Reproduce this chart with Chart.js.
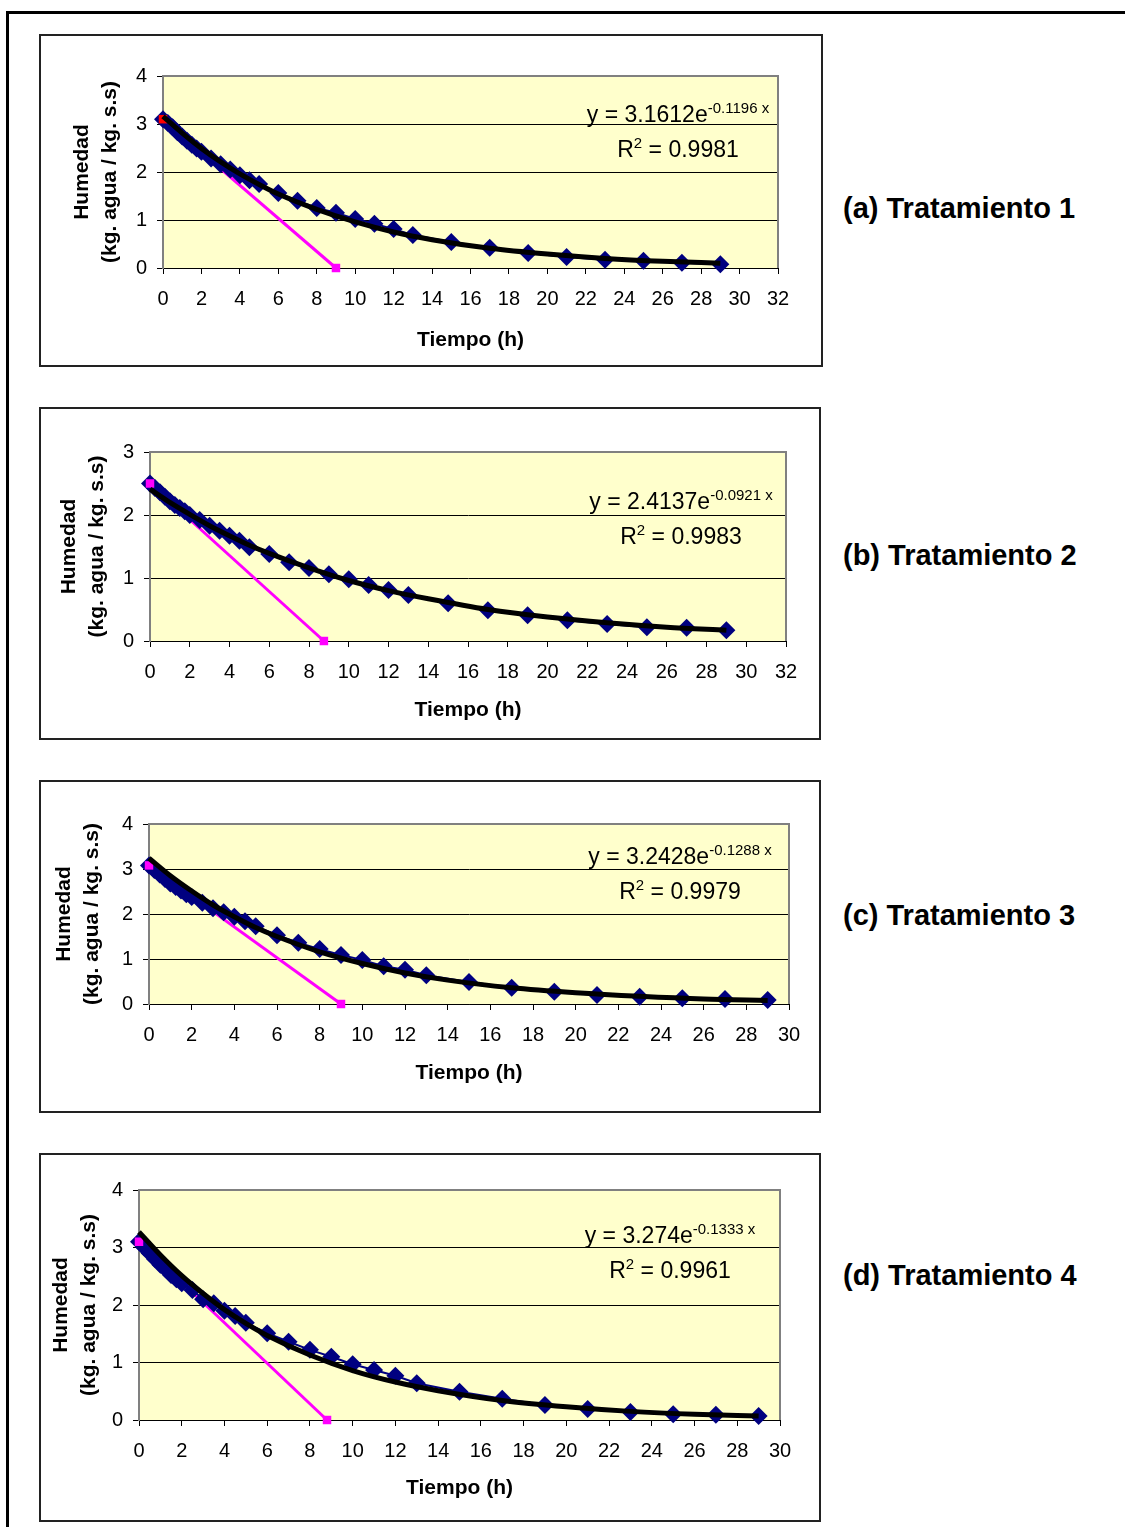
<!DOCTYPE html>
<html>
<head>
<meta charset="utf-8">
<script src="https://cdn.jsdelivr.net/npm/chart.js@4.4.0/dist/chart.umd.min.js"></script>
<style>
  body { margin: 0; background: #fff; width: 1125px; height: 1527px; overflow: hidden; position: relative;
         font-family: "Liberation Sans", Arial, sans-serif; }
  #frame { position: absolute; left: 6px; top: 11px; width: 1200px; height: 1600px;
           border-top: 3px solid #000; border-left: 3px solid #000; }
  .box { position: absolute; border: 2px solid #222; box-sizing: border-box; }
  .holder { position: absolute; }
  .eq { position: absolute; font-size: 23px; line-height: 35px; text-align: center; white-space: nowrap;
        transform: translateX(-50%); color: #000; }
  .eq sup { font-size: 15px; line-height: 0; vertical-align: 9px; }
  .lbl { position: absolute; left: 843px; font-weight: bold; font-size: 29px; line-height: 34px; white-space: nowrap; }
</style>
</head>
<body>
<div id="frame"></div>

<div class="box" style="left:39px;top:34px;width:784px;height:333px"></div>
<div class="holder" style="left:39px;top:34px"><canvas id="c1" width="784" height="333"></canvas></div>
<div class="box" style="left:39px;top:407px;width:782px;height:333px"></div>
<div class="holder" style="left:39px;top:407px"><canvas id="c2" width="782" height="333"></canvas></div>
<div class="box" style="left:39px;top:780px;width:782px;height:333px"></div>
<div class="holder" style="left:39px;top:780px"><canvas id="c3" width="782" height="333"></canvas></div>
<div class="box" style="left:39px;top:1153px;width:782px;height:369px"></div>
<div class="holder" style="left:39px;top:1153px"><canvas id="c4" width="782" height="369"></canvas></div>

<div class="eq" style="left:678px;top:97px">y = 3.1612e<sup>-0.1196 x</sup><br>R<sup>2</sup> = 0.9981</div>
<div class="eq" style="left:681px;top:484px">y = 2.4137e<sup>-0.0921 x</sup><br>R<sup>2</sup> = 0.9983</div>
<div class="eq" style="left:680px;top:839px">y = 3.2428e<sup>-0.1288 x</sup><br>R<sup>2</sup> = 0.9979</div>
<div class="eq" style="left:670px;top:1218px">y = 3.274e<sup>-0.1333 x</sup><br>R<sup>2</sup> = 0.9961</div>

<div class="lbl" style="top:191px">(a) Tratamiento 1</div>
<div class="lbl" style="top:538px">(b) Tratamiento 2</div>
<div class="lbl" style="top:898px">(c) Tratamiento 3</div>
<div class="lbl" style="top:1258px">(d) Tratamiento 4</div>

<script>
Chart.defaults.font.family = '"Liberation Sans", Arial, sans-serif';
Chart.defaults.color = '#000';

// sampling times (h)
const tiempo = [0, 0.25, 0.5, 0.75, 1, 1.25, 1.5, 1.75, 2, 2.5, 3, 3.5, 4, 4.5, 5,
  6, 7, 8, 9, 10, 11, 12, 13, 15, 17, 19, 21, 23, 25, 27, 29];

// moisture (kg agua / kg s.s) per treatment
const humedad1 = [3.10, 3.02, 2.93, 2.83, 2.74, 2.65, 2.57, 2.49, 2.42, 2.28, 2.16, 2.05, 1.93, 1.83, 1.75,
  1.56, 1.40, 1.25, 1.15, 1.02, 0.92, 0.81, 0.69, 0.54, 0.42, 0.31, 0.23, 0.17, 0.15, 0.11, 0.08];
const humedad2 = [2.50, 2.43, 2.36, 2.29, 2.22, 2.16, 2.11, 2.06, 2.00, 1.92, 1.83, 1.75, 1.67, 1.59, 1.49,
  1.38, 1.25, 1.16, 1.06, 0.98, 0.89, 0.81, 0.73, 0.60, 0.49, 0.41, 0.33, 0.27, 0.22, 0.21, 0.17];
const humedad3 = [3.08, 2.98, 2.88, 2.78, 2.68, 2.60, 2.52, 2.44, 2.38, 2.25, 2.13, 2.04, 1.94, 1.84, 1.73,
  1.53, 1.36, 1.22, 1.09, 0.98, 0.84, 0.76, 0.64, 0.49, 0.36, 0.27, 0.20, 0.16, 0.13, 0.11, 0.09];
const humedad4 = [3.10, 3.00, 2.90, 2.80, 2.70, 2.62, 2.52, 2.45, 2.38, 2.26, 2.10, 2.03, 1.90, 1.81, 1.69,
  1.51, 1.36, 1.22, 1.10, 0.97, 0.87, 0.77, 0.64, 0.49, 0.37, 0.26, 0.19, 0.14, 0.10, 0.09, 0.07];

// exponential trend lines
const trendX = [0, 1, 2, 3, 4, 5, 6, 8, 10, 12, 14, 17, 20, 23, 26, 29];
const trend1 = [3.16, 2.81, 2.49, 2.21, 1.96, 1.74, 1.54, 1.22, 0.96, 0.75, 0.59, 0.41, 0.29, 0.20, 0.14, 0.10];
const trend2 = [2.41, 2.20, 2.01, 1.83, 1.67, 1.52, 1.39, 1.16, 0.96, 0.80, 0.67, 0.50, 0.38, 0.29, 0.22, 0.17];
const trend3 = [3.24, 2.85, 2.51, 2.20, 1.94, 1.70, 1.50, 1.16, 0.90, 0.69, 0.53, 0.36, 0.25, 0.17, 0.11, 0.08];
const trend4 = [3.27, 2.87, 2.51, 2.20, 1.92, 1.68, 1.47, 1.13, 0.86, 0.66, 0.51, 0.34, 0.23, 0.15, 0.10, 0.07];

// constant-rate (pink) lines
const rectaX1 = [0, 9.0],  rectaY1 = [3.10, 0];
const rectaX2 = [0, 8.75], rectaY2 = [2.50, 0];
const rectaX3 = [0, 9.0],  rectaY3 = [3.08, 0];
const rectaX4 = [0, 8.8],  rectaY4 = [3.10, 0];

const xTicksMax = [32, 32, 30, 30];
const yTicksMax = [4, 3, 4, 4];

function pts(xs, ys) {
  return xs.map((x, i) => ({ x: x, y: ys[i] }));
}

const plotBg = {
  id: 'plotBg',
  beforeDraw(chart) {
    const { ctx, chartArea: a } = chart;
    ctx.save();
    ctx.fillStyle = '#FFFFCC';
    ctx.fillRect(a.left, a.top, a.right - a.left, a.bottom - a.top);
    ctx.restore();
  },
  beforeDatasetsDraw(chart) {
    const { ctx, chartArea: a } = chart;
    ctx.save();
    ctx.strokeStyle = '#808080';
    ctx.lineWidth = 2;
    ctx.beginPath();
    ctx.moveTo(a.left, a.bottom);
    ctx.lineTo(a.left, a.top);
    ctx.lineTo(a.right, a.top);
    ctx.lineTo(a.right, a.bottom);
    ctx.stroke();
    ctx.restore();
  }
};

// box = canvas position, area = plot area (page coords)
function makePanel(id, box, area, xMax, yMax, hum, trend, rx, ry, rColors, yPad, xPad) {
  new Chart(document.getElementById(id), {
    type: 'scatter',
    data: {
      datasets: [
        {
          data: pts(trendX, trend),
          showLine: true,
          borderColor: '#000',
          borderWidth: 5,
          pointRadius: 0,
          cubicInterpolationMode: 'monotone',
          clip: false,
          order: 1
        },
        {
          // end markers of the pink line
          data: pts(rx, ry),
          showLine: false,
          pointStyle: 'rect',
          pointRadius: 6,
          pointBackgroundColor: rColors,
          pointBorderColor: rColors,
          pointBorderWidth: 0,
          clip: false,
          order: 2
        },
        {
          data: pts(tiempo, hum),
          showLine: true,
          borderColor: '#000080',
          backgroundColor: '#000080',
          borderWidth: 2,
          pointStyle: 'rectRot',
          pointRadius: 9,
          pointBorderWidth: 0,
          clip: false,
          order: 3
        },
        {
          data: pts(rx, ry),
          showLine: true,
          borderColor: '#FF00FF',
          borderWidth: 3,
          pointRadius: 0,
          clip: false,
          order: 4
        }
      ]
    },
    options: {
      responsive: false,
      animation: false,
      layout: { padding: { left: 0, top: area.t - box.t, right: box.l + box.w - area.r, bottom: 0 } },
      plugins: { legend: { display: false }, tooltip: { enabled: false } },
      scales: {
        x: {
          type: 'linear',
          min: 0,
          max: xMax,
          ticks: { stepSize: 2, font: { size: 20 }, padding: 13, maxRotation: 0, autoSkip: false },
          grid: { drawOnChartArea: false, color: '#000', tickLength: 6 },
          border: { color: '#000', width: 1 },
          title: {
            display: true,
            text: 'Tiempo (h)',
            font: { size: 21, weight: 'bold' },
            padding: { top: 0, bottom: xPad }
          },
          afterFit(s) { s.height = box.h - (area.b - box.t); }
        },
        y: {
          min: 0,
          max: yMax,
          ticks: { stepSize: 1, font: { size: 20 }, padding: 10 },
          grid: { color: '#000', tickLength: 6 },
          border: { color: '#808080', width: 2 },
          title: {
            display: true,
            text: ['Humedad', '(kg. agua / kg. s.s)'],
            font: { size: 21, weight: 'bold', lineHeight: 1.35 },
            padding: { top: yPad, bottom: 0 }
          },
          afterFit(s) { s.width = area.l - box.l; }
        }
      }
    },
    plugins: [plotBg]
  });
}

makePanel('c1', { l: 39, t: 34, w: 784, h: 333 }, { l: 163, t: 76, r: 778, b: 268 },
  xTicksMax[0], yTicksMax[0], humedad1, trend1, rectaX1, rectaY1, ['#FF0000', '#FF00FF'], 29, 14);
makePanel('c2', { l: 39, t: 407, w: 782, h: 333 }, { l: 150, t: 452, r: 786, b: 641 },
  xTicksMax[1], yTicksMax[1], humedad2, trend2, rectaX2, rectaY2, ['#FF00FF', '#FF00FF'], 16, 17);
makePanel('c3', { l: 39, t: 780, w: 782, h: 333 }, { l: 149, t: 824, r: 789, b: 1004 },
  xTicksMax[2], yTicksMax[2], humedad3, trend3, rectaX3, rectaY3, ['#FF00FF', '#FF00FF'], 11, 27);
makePanel('c4', { l: 39, t: 1153, w: 782, h: 369 }, { l: 139, t: 1190, r: 780, b: 1420 },
  xTicksMax[3], yTicksMax[3], humedad4, trend4, rectaX4, rectaY4, ['#FF00FF', '#FF00FF'], 8, 21);
</script>
</body>
</html>
